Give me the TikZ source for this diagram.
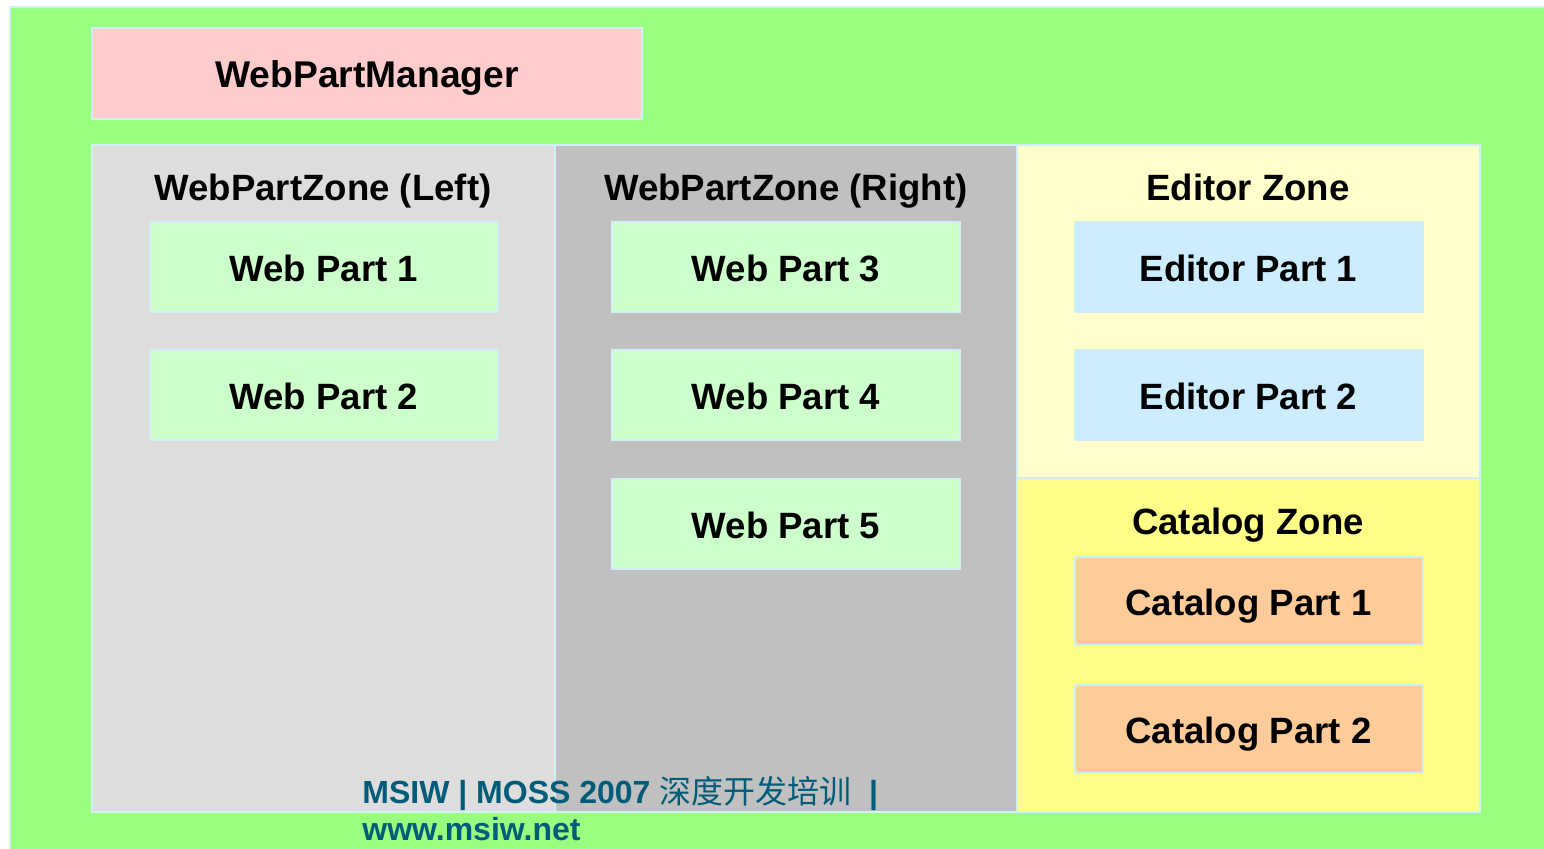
\documentclass[tikz,border=0pt]{standalone}
\usepackage{fontspec}
\setmainfont{Liberation Sans}
\newfontfamily\cjkfont{Noto Sans CJK SC}
\usetikzlibrary{positioning}

\definecolor{pagegreen}{RGB}{153,253,128}
\definecolor{edgecyan}{RGB}{208,240,246}
\definecolor{managerpink}{RGB}{255,204,204}
\definecolor{leftgrey}{RGB}{221,221,221}
\definecolor{rightgrey}{RGB}{192,192,192}
\definecolor{editoryellow}{RGB}{255,255,204}
\definecolor{catalogyellow}{RGB}{255,255,136}
\definecolor{partgreen}{RGB}{204,255,204}
\definecolor{partblue}{RGB}{204,236,255}
\definecolor{partorange}{RGB}{255,204,153}
\definecolor{footerteal}{RGB}{0,92,120}

\tikzset{
	labelfont/.style={font=\bfseries\fontsize{18.3}{20}\selectfont},
	box/.style={draw=edgecyan, line width=1pt, inner sep=0pt, labelfont, text height=14pt, text depth=0pt},
	part/.style={box, minimum width=174pt, minimum height=45pt},
	zone/.style={draw=edgecyan, line width=1pt, inner sep=0pt, minimum width=231.5pt},
	zonetitle/.style={labelfont, anchor=base},
	footer/.style={anchor=base west, inner sep=0pt, text=footerteal, font=\bfseries\fontsize{16}{18}\selectfont}
}

\begin{document}
\begin{tikzpicture}[x=0.5pt, y=-0.5pt]
	\useasboundingbox (0,0) rectangle (1544,848);
	% page
	\fill[white] (0,0) rectangle (1544,848);
	\draw[edgecyan, line width=1pt, fill=pagegreen] (10,7) rectangle (1560,860);
	
	% manager
	\node[box, fill=managerpink, minimum width=275pt, minimum height=45.5pt, font=\bfseries\fontsize{18.6}{20}\selectfont] (manager) at (367,73.5) {WebPartManager};
	
	% zones
	\node[zone, fill=leftgrey, minimum height=333.5pt] (leftzone) at (323.5,478.5) {};
	\node[zone, fill=rightgrey, minimum height=333.5pt] (rightzone) at (786,478.5) {};
	\node[zone, fill=editoryellow, minimum height=166.5pt] (editorzone) at (1248.5,311.5) {};
	\node[zone, fill=catalogyellow, minimum height=167pt] (catalogzone) at (1248.5,645) {};
	
	% zone titles
	\node[zonetitle] (lefttitle) at (323,200) {WebPartZone (Left)};
	\node[zonetitle] (righttitle) at (786,200) {WebPartZone (Right)};
	\node[zonetitle] (editortitle) at (1248,200) {Editor Zone};
	\node[zonetitle] (catalogtitle) at (1248,534) {Catalog Zone};
	
	% parts
	\node[part, fill=partgreen] (wp1) at (324,267) {Web Part 1};
	\node[part, fill=partgreen, below=18pt of wp1] (wp2) {Web Part 2};
	\node[part, fill=partgreen] (wp3) at (786,267) {Web Part 3};
	\node[part, fill=partgreen, below=18pt of wp3] (wp4) {Web Part 4};
	\node[part, fill=partgreen, below=18.5pt of wp4] (wp5) {Web Part 5};
	\node[part, fill=partblue] (ep1) at (1248.5,267) {Editor Part 1};
	\node[part, fill=partblue, below=18pt of ep1] (ep2) {Editor Part 2};
	\node[part, fill=partorange, minimum height=44pt] (cp1) at (1248.5,601) {Catalog Part 1};
	\node[part, fill=partorange, minimum height=44pt, below=19pt of cp1] (cp2) {Catalog Part 2};
	
	% footer
	\node[footer] (footer1) at (362,803) {MSIW | MOSS 2007 {\cjkfont\mdseries 深度开发培训}\ \ |};
	\node[footer] (footer2) at (362,840) {www.msiw.net};
\end{tikzpicture}
\end{document}
